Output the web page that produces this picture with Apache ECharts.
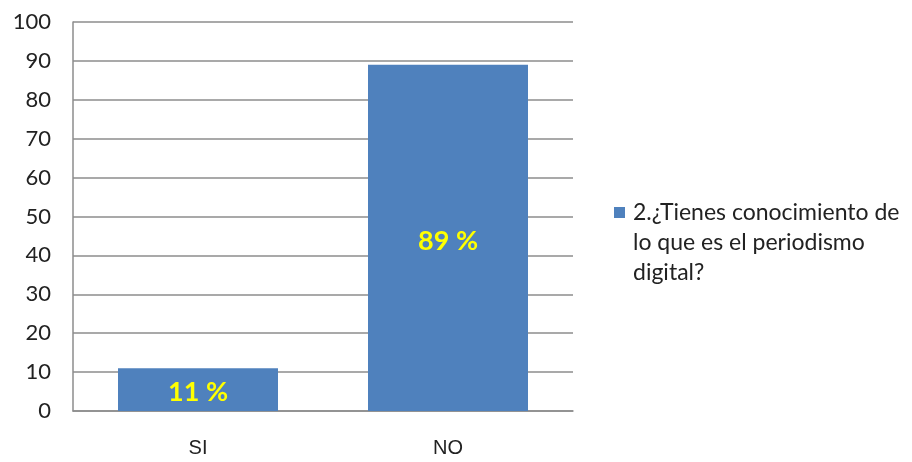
<!DOCTYPE html>
<html>
<head>
<meta charset="utf-8">
<script src="https://cdn.jsdelivr.net/npm/echarts@6/dist/echarts.min.js"></script>
<style>html,body{margin:0;padding:0;background:#fff;}#c{width:912px;height:462px;}</style>
</head>
<body>
<div id="c"></div>
<script>
const categories = ['SI', 'NO'];
const values = [11, 89];
const valueLabels = ['11 %', '89 %'];
const seriesName = '2.¿Tienes conocimiento de\nlo que es el periodismo\ndigital?';
const barColor = '#4F81BD';

const chart = echarts.init(document.getElementById('c'));
chart.setOption({
  animation: false,
  grid: { left: 73, right: 339, top: 22, bottom: 51 },
  legend: { show: false },
  graphic: [
    { type: 'rect', left: 614, top: 207, shape: { width: 11, height: 11 }, style: { fill: barColor } },
    { type: 'text', left: 633, top: 198,
      style: { text: seriesName, font: '23px Lato', fill: '#222', lineHeight: 30 } }
  ],
  xAxis: {
    type: 'category', data: categories,
    axisLine: { lineStyle: { color: '#8c8c8c', width: 1.5 } },
    axisTick: { show: false },
    axisLabel: { fontFamily: 'Liberation Sans', fontSize: 20, color: '#222', margin: 27 }
  },
  yAxis: {
    type: 'value', min: 0, max: 100, interval: 10,
    axisLine: { show: true, lineStyle: { color: '#8c8c8c', width: 1.5 } },
    axisTick: { show: false },
    splitLine: { lineStyle: { color: '#8c8c8c', width: 1.5 } },
    axisLabel: { fontFamily: 'Lato', fontSize: 22, color: '#222', margin: 22 }
  },
  series: [{
    name: seriesName, type: 'bar', data: values, barWidth: '64%',
    itemStyle: { color: barColor },
    label: {
      show: true, position: 'inside', offset: [0, 3],
      formatter: p => valueLabels[p.dataIndex],
      color: '#FFFF00', fontWeight: 'bold', fontFamily: 'Lato', fontSize: 27
    }
  }]
});
</script>
</body>
</html>
